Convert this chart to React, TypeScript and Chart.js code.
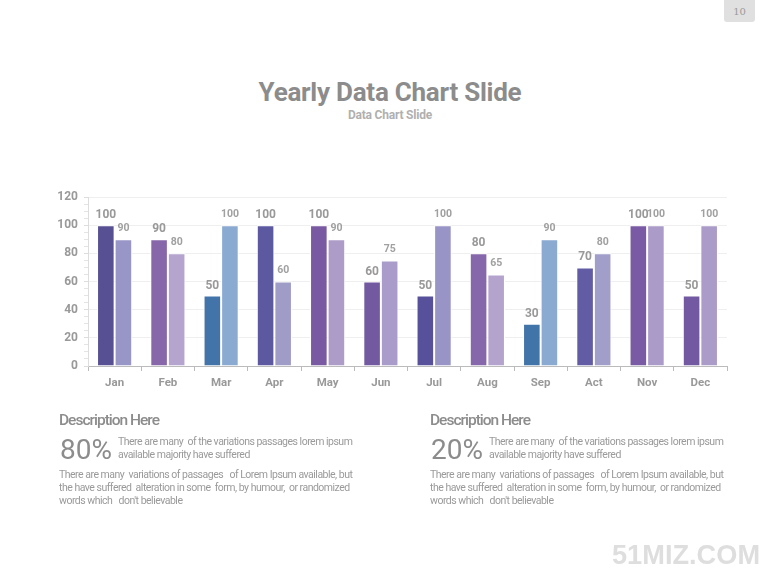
import React, { useEffect, useRef } from "react";
import { Chart, registerables } from "chart.js";

Chart.register(...registerables);

const months = ["Jan", "Feb", "Mar", "Apr", "May", "Jun", "Jul", "Aug", "Sep", "Act", "Nov", "Dec"];
const seriesA = [100, 90, 50, 100, 100, 60, 50, 80, 30, 70, 100, 50];
const seriesB = [90, 80, 100, 60, 90, 75, 100, 65, 90, 80, 100, 100];
const colorsA = ["#575093", "#8767aa", "#4374a9", "#5d59a1", "#7859a2", "#7259a0", "#56519a", "#8767ab", "#4174a8", "#615ca3", "#7a5aa4", "#7359a1"];
const colorsB = ["#9896c6", "#b5a4cd", "#8aaad1", "#9f9dc8", "#ad9bc8", "#a99bca", "#9895c6", "#b4a3cd", "#8aaad1", "#a19eca", "#ab9bc9", "#aa9bc9"];
const yMax = 120;

const FONT = "Roboto, 'Noto Sans', sans-serif";

const labelPlugin = {
  id: "barLabels",
  afterDatasetsDraw(chart: any) {
    const ctx = chart.ctx;
    ctx.save();
    ctx.textAlign = "center";
    ctx.textBaseline = "middle";
    chart.data.datasets.forEach((ds: any, di: number) => {
      const meta = chart.getDatasetMeta(di);
      ctx.font = di === 0 ? `bold 12px ${FONT}` : `bold 10.5px ${FONT}`;
      ctx.fillStyle = di === 0 ? "#999999" : "#a0a0a0";
      meta.data.forEach((el: any, i: number) => {
        ctx.fillText(String(ds.data[i]), el.x, el.y - (di === 0 ? 10 : 11));
      });
    });
    ctx.restore();
  },
};

function BarChart() {
  const ref = useRef<HTMLCanvasElement>(null);
  useEffect(() => {
    if (!ref.current) return;
    const chart = new Chart(ref.current, {
      type: "bar",
      data: {
        labels: months,
        datasets: [
          { data: seriesA, backgroundColor: colorsA, borderColor: "#ffffff", borderWidth: 1, borderSkipped: "bottom" },
          { data: seriesB, backgroundColor: colorsB, borderColor: "#ffffff", borderWidth: 1, borderSkipped: "bottom" },
        ],
      },
      options: {
        animation: false,
        responsive: false,
        maintainAspectRatio: false,
        devicePixelRatio: 1,
        layout: { padding: { left: 40, top: 197, right: 53, bottom: 189 } },
        plugins: { legend: { display: false }, tooltip: { enabled: false } },
        datasets: { bar: { categoryPercentage: 0.66, barPercentage: 1 } },
        scales: {
          x: {
            afterFit: (s: any) => { s.height = 30; },
            border: { color: "#bbbbbb", width: 1 },
            grid: { drawOnChartArea: false, tickLength: 5, color: "#bbbbbb", offset: true },
            ticks: { color: "#999999", font: { family: FONT, size: 11.5, weight: "bold" }, padding: 5 },
          },
          y: {
            min: 0,
            max: yMax,
            afterFit: (s: any) => { s.width = 48; },
            border: { color: "#dddddd", width: 1 },
            grid: {
              tickLength: 4,
              color: (c: any) => (c.tick && c.tick.value % 20 === 0 ? "#efefef" : "rgba(0,0,0,0)"),
              tickColor: (c: any) => (c.tick && c.tick.value % 20 === 0 ? "#dddddd" : "#e4e4e4"),
            },
            ticks: {
              stepSize: 5,
              autoSkip: false,
              color: "#999999",
              padding: 6,
              font: { family: FONT, size: 12, weight: "bold" },
              callback: (v: any) => (Number(v) % 20 === 0 ? String(v) : ""),
            },
          },
        },
      },
      plugins: [labelPlugin],
    });
    return () => chart.destroy();
  }, []);
  return <canvas ref={ref} width={780} height={585} style={{ position: "absolute", left: 0, top: 0, width: 780, height: 585 }} />;
}

const textGrey = "#9a9a9a";

function Desc({ left, pct }: { left: number; pct: string }) {
  return (
    <>
      <div style={{ position: "absolute", left, top: 411, fontSize: 15.5, fontWeight: 500, lineHeight: "18px", color: "#8c8c8c", letterSpacing: -1, whiteSpace: "nowrap" }}>
        Description Here
      </div>
      <div style={{ position: "absolute", left: left + 1, top: 434, fontSize: 28, lineHeight: "32px", color: "#8c8c8c", whiteSpace: "nowrap" }}>
        {pct}
      </div>
      <div style={{ position: "absolute", left: left + 59, top: 435, fontSize: 10.5, lineHeight: "13px", color: textGrey, letterSpacing: -0.5, whiteSpace: "nowrap" }}>
        There are many &nbsp;of the variations passages lorem ipsum<br />available majority have suffered
      </div>
      <div style={{ position: "absolute", left, top: 468, fontSize: 10.5, lineHeight: "13.2px", color: textGrey, letterSpacing: -0.5, whiteSpace: "pre" }}>
        {"There are many  variations of passages   of Lorem Ipsum available, but\nthe have suffered  alteration in some  form, by humour,  or randomized\nwords which   don't believable"}
      </div>
    </>
  );
}

export default function App() {
  return (
    <div style={{ position: "absolute", left: 0, top: 0, width: 780, height: 585, background: "#ffffff", overflow: "hidden", fontFamily: FONT }}>
      <div style={{ position: "absolute", left: 724, top: 0, width: 31, height: 22, background: "#e0e0e0", borderRadius: "0 0 3px 3px", color: "#9a9a9a", fontFamily: "'DejaVu Serif', serif", fontSize: 10, lineHeight: "23px", textAlign: "center" }}>
        10
      </div>
      <div style={{ position: "absolute", left: 0, width: 780, top: 76, textAlign: "center", fontSize: 26, fontWeight: "bold", lineHeight: "32px", color: "#8c8c8c", letterSpacing: -0.25 }}>
        Yearly Data Chart Slide
      </div>
      <div style={{ position: "absolute", left: 0, width: 780, top: 107, textAlign: "center", fontSize: 12, fontWeight: "bold", lineHeight: "16px", color: "#b0b0b0", letterSpacing: -0.2 }}>
        Data Chart Slide
      </div>
      <BarChart />
      <Desc left={59} pct="80%" />
      <Desc left={430} pct="20%" />
      <div style={{ position: "absolute", left: 612, top: 539, fontFamily: "'Liberation Sans', Arial, sans-serif", fontWeight: "bold", fontSize: 27.2, lineHeight: "32px", color: "#dedede", whiteSpace: "nowrap" }}>
        51MIZ.COM
      </div>
    </div>
  );
}
